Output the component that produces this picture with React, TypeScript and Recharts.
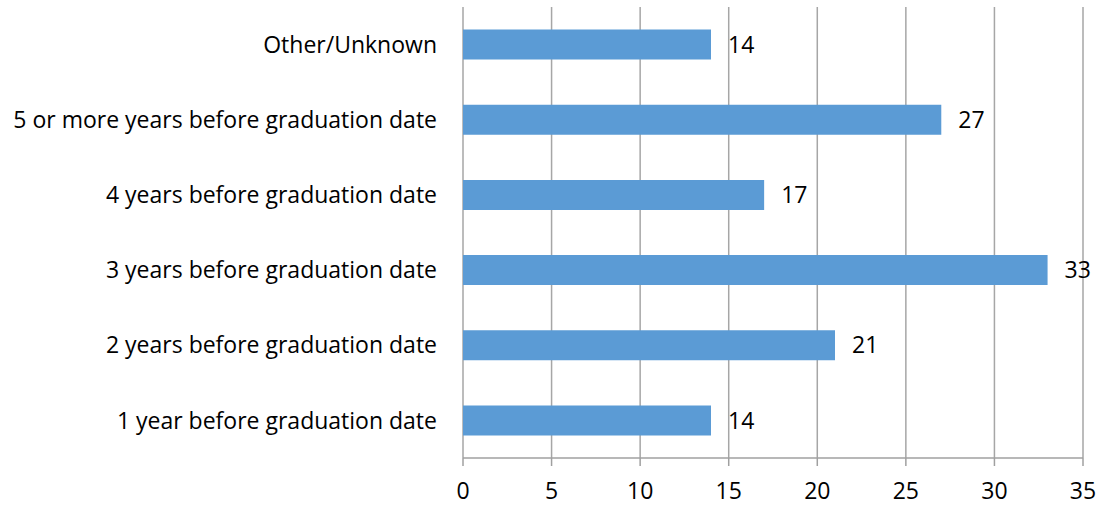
import { Bar, BarChart, CartesianGrid, LabelList, XAxis, YAxis } from 'recharts'

const categories = [
  'Other/Unknown',
  '5 or more years before graduation date',
  '4 years before graduation date',
  '3 years before graduation date',
  '2 years before graduation date',
  '1 year before graduation date',
]
const counts = [14, 27, 17, 33, 21, 14]
const xTicks = [0, 5, 10, 15, 20, 25, 30, 35]
const bandTicks = [0, 1, 2, 3, 4, 5, 6]

const data = categories.map((name, i) => ({ name, value: counts[i] }))

const font = '"Open Sans", sans-serif'
const textStyle = { fontSize: 23, fill: '#000', fontFamily: font }

export default function App() {
  return (
    <div style={{ position: 'absolute', left: 0, top: 0, width: 1099, height: 517, background: '#fff', fontFamily: font }}>
      <BarChart
        width={1099}
        height={517}
        data={data}
        layout="vertical"
        margin={{ top: 7, right: 16, bottom: 0, left: 0 }}
        barCategoryGap="30%"
      >
        <CartesianGrid horizontal={false} stroke="#a6a6a6" strokeWidth={1.5} />
        <XAxis
          type="number"
          domain={[0, 35]}
          ticks={xTicks}
          tickSize={8}
          tickMargin={17}
          height={59}
          stroke="#a0a0a0"
          strokeWidth={1.5}
          tick={textStyle}
          interval={0}
        />
        <YAxis
          yAxisId="bands"
          type="number"
          domain={[0, 6]}
          ticks={bandTicks}
          tick={false}
          tickSize={8}
          width={0}
          stroke="#a0a0a0"
          strokeWidth={1.5}
        />
        <YAxis
          yAxisId="cat"
          type="category"
          dataKey="name"
          width={463}
          tickLine={false}
          axisLine={false}
          tickMargin={20}
          tick={textStyle}
          interval={0}
        />
        <Bar yAxisId="cat" dataKey="value" fill="#5b9bd5" isAnimationActive={false}>
          <LabelList dataKey="value" position="right" offset={17} style={textStyle} />
        </Bar>
      </BarChart>
    </div>
  )
}
